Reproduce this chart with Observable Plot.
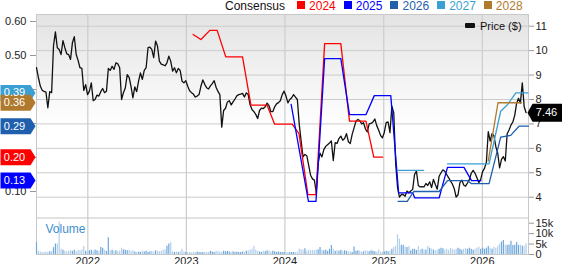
<!DOCTYPE html>
<html><head><meta charset="utf-8">
<script src="https://cdn.jsdelivr.net/npm/d3@7"></script>
<script src="https://cdn.jsdelivr.net/npm/@observablehq/plot@0.6"></script>
<style>
body{margin:0;background:#fff;font-family:"Liberation Sans",Arial,sans-serif;}
#chart{position:relative;width:562px;height:264px;overflow:hidden;background:#fff;}
#chart svg{position:absolute;left:0;top:0;}
.abs{position:absolute;}
</style></head><body><div id="chart"></div>
<script>
// ---------- data ----------
const startDate = "2021-06-25";   // first weekly observation
const endDate = "2026-06-21";     // right edge of chart
const price = [
9.3,8.9,8.55,8.38,8.33,8.3,7.66,8.32,8.28,10.2,
10.77,10.12,10.05,9.84,10.41,10.12,9.87,9.84,9.64,10.32,
10.57,9.84,9.6,9.3,9.27,8.37,8.61,8.2,8.34,8.68,
7.95,8.0,8.18,8.14,8.32,8.45,8.28,8.34,9.27,9.19,
9.36,9.23,9.5,9.46,9.3,8.0,8.28,8.48,9.02,8.91,
8.54,8.07,8.52,8.32,8.75,9.09,8.82,9.19,9.3,10.12,
10.14,10.05,9.71,10.39,10.19,9.57,
9.45,9.42,9.38,9.5,9.77,9.57,9.16,9.3,9.09,9.27,
9.19,8.75,8.68,8.77,8.54,8.36,8.28,8.22,8.1,8.14,
8.2,8.55,8.8,8.62,8.48,8.43,8.56,8.65,8.77,8.5,
8.33,8.2,6.87,7.55,7.64,7.9,7.95,7.78,7.9,8.02,
8.15,8.2,8.22,8.25,8.1,8.27,8.2,7.78,7.59,7.5,
7.39,7.22,7.55,7.65,7.63,7.7,7.85,7.75,7.5,7.5,
7.7,7.82,7.87,7.95,
8.2,8.34,8.14,7.86,8.0,8.07,8.2,8.1,8.0,6.98,
6.3,5.65,5.75,5.7,5.3,4.9,4.75,4.7,4.2,5.4,
5.8,5.65,5.95,6.08,6.15,6.22,6.3,5.5,6.23,6.2,
6.4,6.5,6.33,6.4,6.6,6.27,6.2,6.57,6.84,7.11,
7.18,7.14,7.0,7.05,6.8,6.67,7.0,7.02,7.08,7.2,
6.93,6.75,6.53,6.43,6.65,7.05,7.08,6.64,7.73,7.45,
5.4,4.4,4.0,4.11,
4.11,4.04,4.25,4.18,4.25,4.32,4.93,5.07,4.48,4.42,
4.43,4.42,4.56,4.48,4.63,4.39,4.73,4.52,4.33,4.86,
5.0,5.12,5.06,4.93,4.8,4.67,4.54,4.35,4.0,4.1,
4.6,4.7,4.5,4.45,4.58,4.72,4.98,5.1,4.98,4.8,
4.6,4.73,5.05,5.18,5.43,6.68,6.3,6.6,6.52,6.07,
5.8,5.2,5.55,5.66,5.48,6.6,6.75,6.95,7.08,7.35,
7.85,8.05,7.85,8.68,7.7,7.46
];
const volume = [ // thousands of shares, weekly
5.7,1.5,1.2,1.0,1.0,1.2,1.0,1.3,1.5,3.3,
5.0,5.0,15.5,2.5,2.0,1.5,1.3,1.5,1.8,1.5,
2.0,1.3,2.0,1.8,2.2,3.8,1.5,1.3,1.8,2.0,
1.5,2.2,1.8,1.5,3.3,3.0,2.0,1.5,8.0,1.8,
2.0,1.5,1.8,1.3,1.5,3.0,2.2,2.0,1.8,2.0,
1.5,1.8,1.2,1.0,1.2,1.0,1.5,1.2,1.5,1.0,
1.3,1.5,1.2,1.8,1.5,1.3,1.5,2.0,2.2,4.0,
5.0,5.7,1.3,1.0,1.2,1.0,1.3,2.5,1.2,1.0,
0.8,1.0,0.8,1.0,0.9,1.2,1.0,0.8,1.0,1.1,
0.9,1.0,1.5,1.2,1.0,1.5,1.3,1.2,1.0,1.5,
1.3,1.5,1.2,1.0,1.3,1.0,1.2,0.9,1.0,1.2,
1.0,1.5,1.8,2.0,2.5,4.0,2.2,1.5,1.2,1.0,
1.5,1.3,1.8,1.5,1.2,1.5,1.3,1.0,1.2,1.0,
0.9,1.0,1.0,0.9,1.0,0.9,1.0,1.0,1.2,2.5,
2.3,2.0,2.8,1.5,2.0,1.8,2.0,1.8,2.0,2.3,
3.3,2.0,1.8,2.0,1.5,2.5,4.3,2.5,1.5,1.8,
1.5,2.0,1.5,1.8,1.5,1.2,1.3,1.0,3.6,1.5,
1.8,1.5,1.2,1.3,1.8,1.5,1.3,1.8,1.5,1.3,
1.2,2.2,1.2,1.0,1.2,1.5,1.3,1.5,2.5,3.3,
4.0,9.5,7.3,4.4,4.4,3.6,3.3,3.8,1.8,2.5,
2.5,2.0,3.8,2.2,2.5,2.0,2.2,4.0,3.0,2.5,
2.2,1.8,2.0,2.5,3.0,2.8,2.0,2.5,2.0,3.0,
2.5,2.0,2.5,3.0,2.5,2.0,2.5,2.8,2.5,3.0,
2.5,2.0,2.5,3.0,3.5,2.5,3.0,2.5,3.0,3.8,
3.0,2.5,3.5,3.0,4.0,5.0,6.0,6.7,4.5,4.3,
4.5,6.3,4.3,4.4,5.7,4.4,4.4,4.0,4.0,5.2,5.2
];
const years = ["2024","2025","2026","2027","2028"];
const yearColors = ["#ff0000","#0000ff","#1f5fad","#3b9fd3","#b07a2e"];
const eps2024Dates = ["2023-01-26","2023-02-24","2023-03-29","2023-04-25","2023-05-27","2023-07-28","2023-08-28","2023-10-27","2023-11-24","2024-01-28","2024-02-22","2024-03-26","2024-04-25","2024-05-27","2024-07-26","2024-08-27","2024-10-27","2024-11-25","2024-12-28"];
const eps2024 = [0.562,0.547,0.574,0.574,0.496,0.496,0.354,0.354,0.298,0.298,0.27,0.091,0.091,0.535,0.535,0.307,0.307,0.201,0.201];
const eps2025Dates = ["2024-01-24","2024-03-28","2024-04-25","2024-05-27","2024-07-26","2024-08-27","2024-10-27","2024-11-27","2025-01-27","2025-02-25","2025-04-18","2025-04-26","2025-07-25","2025-08-25","2025-10-25","2025-11-22","2025-12-27"];
const eps2025 = [0.356,0.071,0.071,0.491,0.491,0.326,0.326,0.382,0.382,0.096,0.096,0.081,0.081,0.171,0.171,0.132,0.132];
const eps2026Dates = ["2025-02-23","2025-03-29","2025-04-22","2025-07-25","2025-08-25","2025-11-07","2025-11-22","2026-01-26","2026-03-10","2026-04-16","2026-05-17","2026-06-21"];
const eps2026 = [0.071,0.071,0.10,0.10,0.132,0.132,0.123,0.123,0.26,0.265,0.292,0.292];
const eps2027Dates = ["2025-02-23","2025-05-28","2025-07-10","2025-08-25","2026-01-26","2026-03-10","2026-04-05","2026-05-05","2026-06-19"];
const eps2027 = [0.162,0.162,null,0.181,0.181,0.336,0.356,0.39,0.39];
const eps2028Dates = ["2026-01-23","2026-02-28","2026-05-26"];
const eps2028 = [0.19,0.361,0.361];
const priceTicks = [4,5,6,7,8,9,10,11];
const epsTicks = [0.1,0.2,0.3,0.4,0.5,0.6];
const volumeTicks = [0,5,10,15];
const yearTicks = [2022,2023,2024,2025,2026];

// ---------- build ----------
const start = new Date(startDate + "T00:00:00Z");
const xDomain = [start, new Date(endDate + "T00:00:00Z")];
const priceRows = price.map((p, i) => ({date: d3.utcDay.offset(start, 7 * i), price: p, vol: volume[i], up: i === 0 || p >= price[i - 1]}));
const epsSeries = [[eps2024Dates, eps2024], [eps2025Dates, eps2025], [eps2026Dates, eps2026], [eps2027Dates, eps2027], [eps2028Dates, eps2028]];
const epsRows = epsSeries.flatMap(([ds, vs], k) => ds.map((d, i) => ({year: years[k], date: new Date(d + "T00:00:00Z"), v: vs[i]})));
const badges = epsSeries.map(([ds, vs], k) => ({year: years[k], v: vs.filter(v => v != null).at(-1)})).sort((a, b) => b.v - a.v);
const lastPrice = price[price.length - 1];
const yearDates = yearTicks.map(y => new Date(Date.UTC(y, 0, 1)));

const W = 562, H = 264;
const margins = {marginLeft: 36, marginRight: 34, marginTop: 14, marginBottom: 10};
const font = "'Liberation Sans', Arial, sans-serif";
const style = {fontFamily: font, fontSize: "11px", background: "transparent", overflow: "visible"};

const tagRight = {draw(ctx) { ctx.moveTo(-18, -8); ctx.lineTo(12, -8); ctx.lineTo(17, 0); ctx.lineTo(12, 8); ctx.lineTo(-18, 8); ctx.closePath(); }};
const tagLeft = {draw(ctx) { ctx.moveTo(-1, 0); ctx.lineTo(4, -9); ctx.lineTo(34, -9); ctx.lineTo(34, 9); ctx.lineTo(4, 9); ctx.closePath(); }};

const chart = document.getElementById("chart");
function addDiv(css, html = "") { const d = document.createElement("div"); d.className = "abs"; d.style.cssText = css; d.innerHTML = html; chart.appendChild(d); return d; }

// background gradient of the price panel & separator
addDiv("left:36px;top:14px;width:492px;height:203px;background:linear-gradient(#e3e3e3,#ffffff 56%);");
addDiv("left:36px;top:216.5px;width:492px;height:2px;background:#e2e2e2;");

// Plot A: grid, price line, right axis, x axis
const plotA = Plot.plot({
  width: W, height: H, ...margins, style,
  x: {type: "utc", domain: xDomain},
  y: {domain: [4, 11], range: [196.7, 25.7]},
  marks: [
    Plot.ruleY(priceTicks, {stroke: "#cccccc", strokeWidth: 1}),
    Plot.ruleX(yearDates, {stroke: "#cccccc", strokeWidth: 1.2}),
    Plot.frame({stroke: "#c8c8c8"}),
    Plot.axisY({anchor: "right", ticks: priceTicks, tickFormat: "d", tickSize: 5, tickPadding: 2, stroke: "#999", fill: "#222", label: null}),
    Plot.axisX({anchor: "bottom", ticks: yearDates, tickFormat: d3.utcFormat("%Y"), tickSize: 0, tickPadding: 3, fill: "#222", label: null}),
    Plot.line(priceRows, {x: "date", y: "price", stroke: "#111", strokeWidth: 1.3}),
    Plot.dot([lastPrice], {y: d => d, frameAnchor: "right", symbol: tagLeft, fill: "#000", stroke: "none"}),
    Plot.text([lastPrice], {y: d => d, frameAnchor: "right", dx: 18, text: d => d.toFixed(2), fill: "#fff", textAnchor: "middle", fontSize: 11})
  ]
});
chart.appendChild(plotA);

// Plot C: volume panel
const plotC = Plot.plot({
  width: W, height: H, marginLeft: 36, marginRight: 34, marginTop: 217, marginBottom: 10, style,
  x: {type: "utc", domain: xDomain, axis: null},
  y: {domain: [0, 15], range: [254, 222.7]},
  marks: [
    Plot.ruleX(priceRows, {x: "date", y1: 0, y2: "vol", stroke: d => d.up ? "#6ea8dc" : "#b2cfeb", strokeWidth: 1.2}),
    Plot.axisY({anchor: "right", ticks: volumeTicks, tickFormat: d => d === 0 ? "0" : d + "k", tickSize: 5, tickPadding: 2, stroke: "#999", fill: "#222", label: null}),
    Plot.text(["Volume"], {frameAnchor: "top-left", dx: 9, dy: 7, lineAnchor: "top", textAnchor: "start", fill: "#3d8fcf", fontSize: 12})
  ]
});
chart.appendChild(plotC);

// Plot B: consensus EPS lines, left axis, badges
const plotB = Plot.plot({
  width: W, height: H, ...margins, style,
  x: {type: "utc", domain: xDomain, axis: null},
  y: {domain: [0.1, 0.6], range: [191, 21]},
  color: {domain: years, range: yearColors},
  marks: [
    Plot.axisY({anchor: "left", ticks: epsTicks, tickFormat: ".2f", tickSize: 6, tickPadding: 4, stroke: "#999", fill: "#222", label: null}),
    Plot.line(epsRows, {x: "date", y: "v", z: "year", stroke: "year", strokeWidth: 1.3}),
    Plot.dot(badges, {y: "v", frameAnchor: "left", dx: -18, symbol: tagRight, fill: "year", stroke: "none"}),
    Plot.text(badges, {y: "v", frameAnchor: "left", dx: -22, text: d => d.v.toFixed(2), fill: "#fff", textAnchor: "middle", fontSize: 11})
  ]
});
chart.appendChild(plotB);

// legends
const leg = addDiv("left:225px;top:0px;font-size:12px;line-height:12px;white-space:nowrap;display:flex;align-items:flex-start;");
let html = '<span style="color:#111;margin-right:12px;">Consensus</span>';
years.forEach((y, i) => {
  html += `<span style="display:inline-block;width:8px;height:8px;margin-top:1px;background:${yearColors[i]};margin-right:4px;"></span><span style="color:${yearColors[i]};margin-right:8px;">${y}</span>`;
});
leg.innerHTML = html;
addDiv("left:465px;top:23px;width:10px;height:4.5px;background:#111;border-radius:1px;");
addDiv("left:480px;top:20.5px;font-size:11px;line-height:11px;color:#111;white-space:nowrap;", "Price ($)");
</script></body></html>
